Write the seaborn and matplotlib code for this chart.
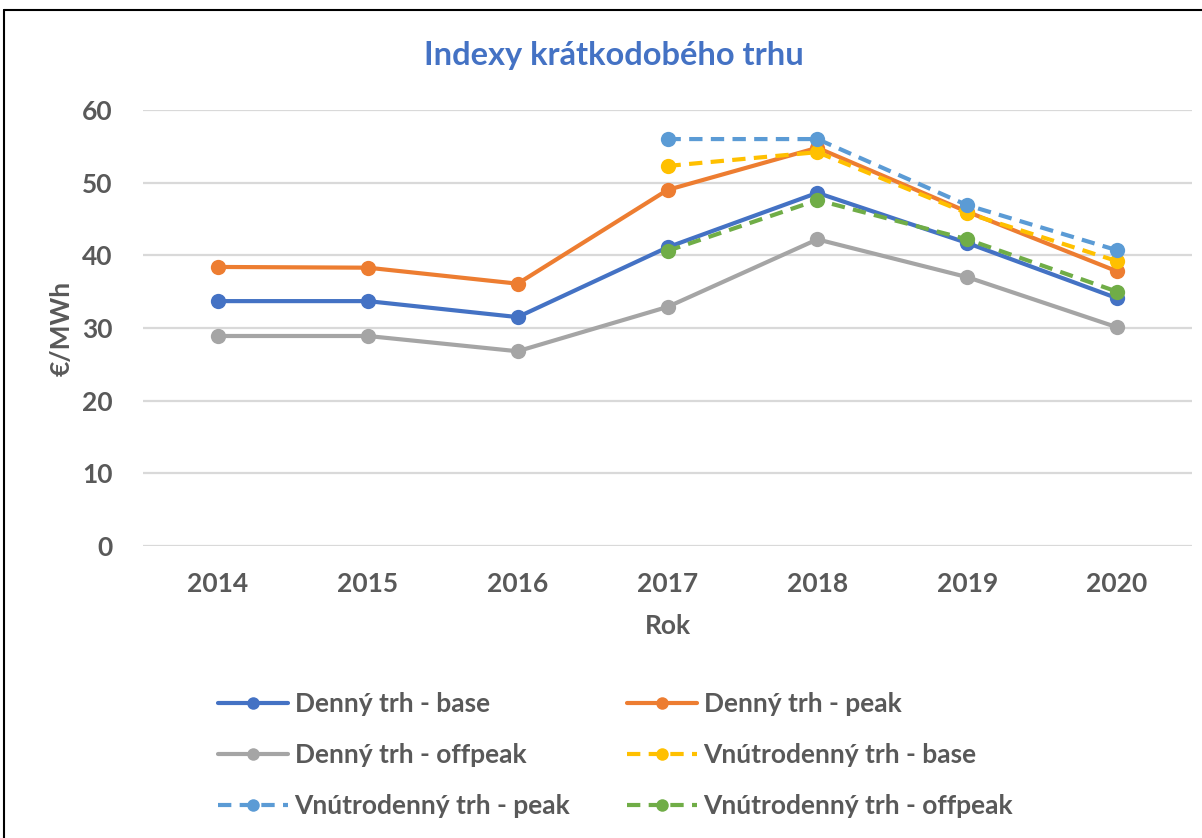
import numpy as np
import pandas as pd
import matplotlib
matplotlib.use("Agg")
import matplotlib.pyplot as plt
from matplotlib.lines import Line2D
import seaborn as sns

years = [2014, 2015, 2016, 2017, 2018, 2019, 2020]
dt_base = [33.7, 33.7, 31.5, 41.1, 48.6, 41.7, 34.1]
dt_peak = [38.4, 38.3, 36.1, 49.0, 54.8, 46.0, 37.8]
dt_offpeak = [28.9, 28.9, 26.8, 32.9, 42.2, 37.0, 30.1]
vt_base = [np.nan, np.nan, np.nan, 52.3, 54.2, 45.8, 39.2]
vt_peak = [np.nan, np.nan, np.nan, 56.0, 56.0, 46.9, 40.7]
vt_offpeak = [np.nan, np.nan, np.nan, 40.6, 47.6, 42.2, 35.0]

names = ["Denný trh - base", "Denný trh - peak", "Denný trh - offpeak",
         "Vnútrodenný trh - base", "Vnútrodenný trh - peak", "Vnútrodenný trh - offpeak"]
series = [dt_base, dt_peak, dt_offpeak, vt_base, vt_peak, vt_offpeak]
colors = ["#4472C4", "#ED7D31", "#A5A5A5", "#FFC000", "#5B9BD5", "#70AD47"]
dashed = [False, False, False, True, True, True]

sns.set_theme(style="white")
plt.rcParams['font.family'] = ['Lato', 'DejaVu Sans']

text_col = "#595959"
fs = 19
fig = plt.figure(figsize=(12.02, 8.38), dpi=100)
ax = fig.add_axes([143/1202, 1-546/838, (1192-143)/1202, (546-110)/838])

for name, vals, col, dsh in zip(names, series, colors, dashed):
    df = pd.DataFrame({"Rok": years, "val": vals}).dropna()
    sns.lineplot(data=df, x="Rok", y="val", ax=ax, color=col, label=name,
                 marker="o", markersize=11, markeredgewidth=0, linewidth=3,
                 linestyle=(0, (3.2, 2.0)) if dsh else "-")

ax.set_xlim(2013.5, 2020.5)
ax.set_ylim(0, 60)
ax.set_xticks(years)
ax.set_xticklabels([str(y) for y in years])
ax.set_yticks(range(0, 61, 10))
ax.yaxis.grid(True, color="#D9D9D9", linewidth=1.6)
ax.xaxis.grid(False)
for s in ax.spines.values():
    s.set_visible(False)
ax.tick_params(axis="both", length=0, labelsize=fs, colors=text_col)
ax.tick_params(axis="x", pad=19)
ax.tick_params(axis="y", pad=22)
for lab in ax.get_xticklabels() + ax.get_yticklabels():
    lab.set_fontweight("bold")
ax.set_xlabel("Rok", fontsize=fs, fontweight="bold", color=text_col)
ax.set_ylabel("€/MWh", fontsize=fs, fontweight="bold", color=text_col)
ax.xaxis.set_label_coords(0.5, (546-614)/436)
ax.yaxis.set_label_coords((74-143)/1049, 0.5)

handles, labels = ax.get_legend_handles_labels()
order = [0, 2, 4, 1, 3, 5]
leg = ax.legend([handles[i] for i in order], [labels[i] for i in order],
                ncol=2, loc="upper left", bbox_to_anchor=(218/1202, 1-692/838),
                bbox_transform=fig.transFigure, frameon=False, fontsize=fs,
                handlelength=2.65, handletextpad=0.25, columnspacing=2.15,
                labelspacing=1.03, borderpad=0, borderaxespad=0)
for t in leg.get_texts():
    t.set_color(text_col)
    t.set_fontweight("bold")
for h in leg.legend_handles:
    h.set_markersize(9)

fig.text(614/1202, 1-56/838, "Indexy krátkodobého trhu", ha="center", va="center",
         fontsize=23.5, fontweight="bold", color="#4472C4")

# outer frame (top and left edges visible)
fig.add_artist(Line2D([4/1202, 4/1202], [0, 1-10/838], transform=fig.transFigure,
                      color="black", linewidth=1.5))
fig.add_artist(Line2D([4/1202, 1], [1-10/838, 1-10/838], transform=fig.transFigure,
                      color="black", linewidth=1.5))

fig.savefig("out.png", dpi=100)
